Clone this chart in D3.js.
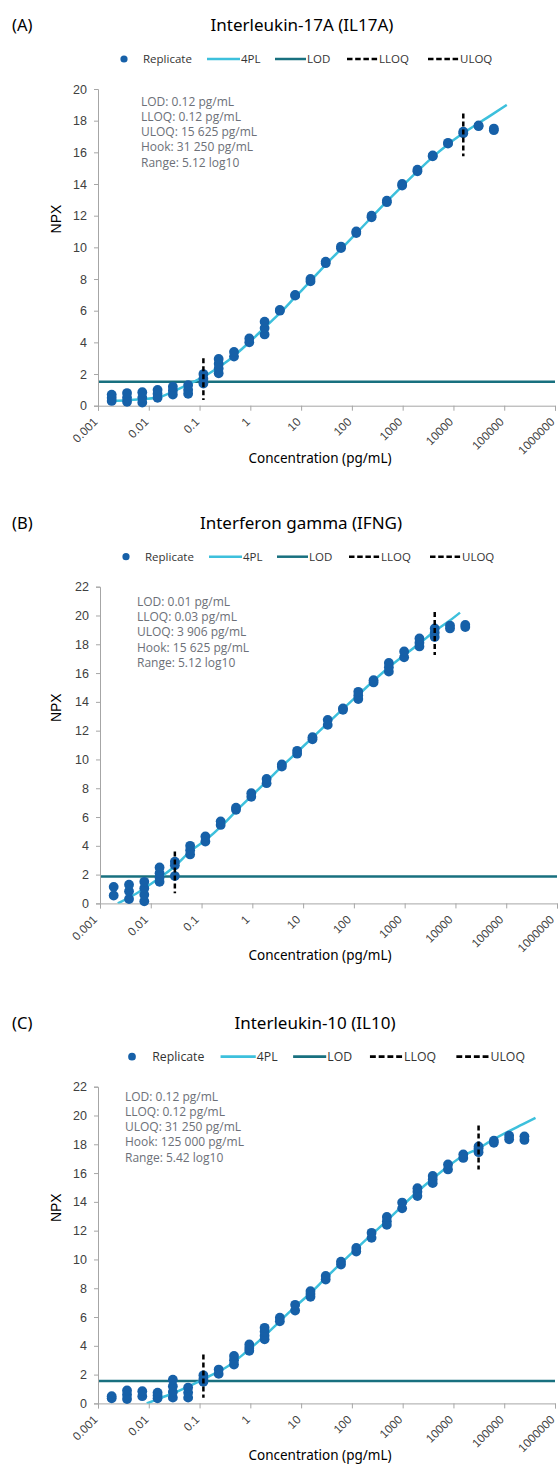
<!DOCTYPE html>
<html>
<head>
<meta charset="utf-8">
<script src="https://cdn.jsdelivr.net/npm/d3@7"></script>
<style>
  body { margin: 0; background: #fff; }
  svg { display: block; }
</style>
</head>
<body>
<svg class="chart"></svg>
<script>
const width = 558
const height = 1465

// x axis ticks (pg/mL)
const xTicks = [0.001, 0.01, 0.1, 1, 10, 100, 1000, 10000, 100000, 1000000]
const xTickLabels = ['0.001', '0.01', '0.1', '1', '10', '100', '1000', '10000', '100000', '1000000']
const yTicksA = [0, 2, 4, 6, 8, 10, 12, 14, 16, 18, 20]
const yTicksBC = [0, 2, 4, 6, 8, 10, 12, 14, 16, 18, 20, 22]

const legendLabels = ['Replicate', '4PL', 'LOD', 'LLOQ', 'ULOQ']
const titles = ['Interleukin-17A (IL17A)', 'Interferon gamma (IFNG)', 'Interleukin-10 (IL10)']
const panelTags = ['(A)', '(B)', '(C)']

// dilution series (pg/mL)
const concA = [0.00186, 0.00373, 0.00745, 0.0149, 0.0298, 0.0596, 0.119, 0.238, 0.477, 0.954, 1.91, 3.81, 7.63,
  15.3, 30.5, 61.0, 122, 244, 488, 977, 1953, 3906, 7813, 15625, 31250, 62500]
const concB = [0.00186, 0.00373, 0.00745, 0.0149, 0.0298, 0.0596, 0.119, 0.238, 0.477, 0.954, 1.91, 3.81, 7.63,
  15.3, 30.5, 61.0, 122, 244, 488, 977, 1953, 3906, 7813, 15625]
const concC = [0.00186, 0.00373, 0.00745, 0.0149, 0.0298, 0.0596, 0.119, 0.238, 0.477, 0.954, 1.91, 3.81, 7.63,
  15.3, 30.5, 61.0, 122, 244, 488, 977, 1953, 3906, 7813, 15625, 31250, 62500, 125000, 250000]

// replicate NPX per concentration
const npxA = [
  [0.3, 0.5, 0.7], [0.25, 0.5, 0.8], [0.2, 0.5, 0.85], [0.5, 0.75, 1.0], [0.7, 0.95, 1.2], [0.75, 1.0, 1.3],
  [1.4, 1.7, 2.0], [2.05, 2.35, 2.65, 2.95], [3.1, 3.4], [4.0, 4.25], [4.5, 4.9, 5.3], [6.0, 6.05],
  [6.95, 7.0], [7.85, 8.0], [9.0, 9.1], [9.95, 10.05], [10.9, 11.0], [11.9, 12.0], [12.85, 12.95],
  [13.9, 14.0], [14.8, 14.9], [15.75, 15.8], [16.55, 16.6], [17.2, 17.3], [17.65, 17.7], [17.4, 17.5]
]
const npxB = [
  [0.55, 1.15], [0.3, 0.85, 1.3], [0.15, 0.6, 1.05, 1.5], [1.5, 1.8, 2.1, 2.5], [1.9, 2.65, 2.9],
  [3.4, 3.7, 4.0], [4.3, 4.65], [5.45, 5.7], [6.5, 6.65], [7.4, 7.65], [8.35, 8.65], [9.5, 9.65],
  [10.4, 10.6], [11.4, 11.55], [12.4, 12.75], [13.45, 13.55], [14.2, 14.45, 14.7], [15.35, 15.5],
  [16.1, 16.4, 16.7], [17.1, 17.5], [17.85, 18.1, 18.4], [18.5, 18.8, 19.1], [19.1, 19.3], [19.2, 19.35]
]
const npxC = [
  [0.35, 0.5], [0.3, 0.6, 0.9], [0.5, 0.85], [0.35, 0.55, 0.75], [0.4, 0.8, 1.2, 1.65], [0.4, 0.75, 1.1],
  [1.5, 1.7, 1.95], [2.05, 2.35], [2.7, 3.0, 3.3], [3.65, 3.85, 4.1], [4.45, 4.7, 5.0, 5.25], [5.7, 5.95],
  [6.45, 6.85], [7.4, 7.6, 7.8], [8.6, 8.85], [9.65, 9.85], [10.55, 10.8], [11.5, 11.85],
  [12.4, 12.65, 12.95], [13.55, 13.95], [14.4, 14.7, 14.95], [15.3, 15.55, 15.8], [16.25, 16.6],
  [17.05, 17.3], [17.45, 17.7, 17.85], [18.1, 18.25], [18.35, 18.6], [18.3, 18.55]
]

// 4PL fit: log10 concentration and NPX
const curveLogA = [-2.73, -2.4, -2.1, -1.78, -1.484, -1.09, -0.829, -0.435, -0.04, 0.287, 0.616, 0.88, 1.18,
  1.48, 1.79, 2.09, 2.69, 3.29, 3.59, 3.89, 4.19, 4.72, 5.05]
const curveNpxA = [0.3, 0.35, 0.42, 0.55, 0.95, 1.55, 2.0, 2.85, 3.95, 4.95, 5.95, 6.85, 7.85,
  8.9, 9.9, 10.9, 12.9, 14.8, 15.7, 16.5, 17.2, 18.3, 19.0]
const curveLogB = [-2.65, -2.3, -2.0, -1.79, -1.52, -1.23, -0.9, -0.6, -0.31, -0.014, 0.28, 0.577, 0.88,
  1.48, 2.09, 2.69, 3.29, 3.59, 3.89, 4.09]
const curveNpxB = [0, 0.65, 1.35, 1.87, 2.6, 3.6, 4.45, 5.4, 6.45, 7.47, 8.47, 9.5, 10.5,
  12.5, 14.5, 16.4, 18.05, 18.9, 19.65, 20.2]
const curveLogC = [-2.04, -1.746, -1.42, -1.09, -0.83, -0.435, -0.106, 0.222, 0.55, 0.878, 1.18, 1.48, 2.09,
  2.69, 3.29, 3.59, 3.89, 4.19, 4.49, 4.72, 5.37, 5.616]
const curveNpxC = [0, 0.4, 0.85, 1.39, 1.85, 2.6, 3.5, 4.5, 5.6, 6.7, 7.65, 8.7, 10.75,
  12.7, 14.7, 15.6, 16.45, 17.2, 17.7, 18.2, 19.4, 19.83]

// LOD (NPX), LLOQ / ULOQ (pg/mL) and the NPX span of their dashed markers
const lod = [1.52, 1.87, 1.55]
const lloq = [0.119, 0.0298, 0.119]
const uloq = [15625, 3906, 31250]
const lloqSpan = [[0.36, 3.0], [0.7, 3.6], [0.4, 3.4]]
const uloqSpan = [[15.75, 18.45], [17.25, 20.25], [16.25, 19.3]]

const infoA = ['LOD: 0.12 pg/mL', 'LLOQ: 0.12 pg/mL', 'ULOQ: 15 625 pg/mL', 'Hook: 31 250 pg/mL', 'Range: 5.12 log10']
const infoB = ['LOD: 0.01 pg/mL', 'LLOQ: 0.03 pg/mL', 'ULOQ: 3 906 pg/mL', 'Hook: 15 625 pg/mL', 'Range: 5.12 log10']
const infoC = ['LOD: 0.12 pg/mL', 'LLOQ: 0.12 pg/mL', 'ULOQ: 31 250 pg/mL', 'Hook: 125 000 pg/mL', 'Range: 5.42 log10']

const colors = {
  dot: '#1660a8',
  fit: '#3dc0dc',
  lod: '#18707f',
  axis: '#a6a6a6',
  tick: '#404040',
  info: '#6c7078'
}

// page layout of each panel
const layout = [
  { top: 0, x0: 98, x1: 555, labelDx: 0, infoX: 141, infoY: 16.7, npxY: 219, titleX: 302, legendX: 124, legendS: 1 },
  { top: 497.7, x0: 100, x1: 557, labelDx: -2.5, infoX: 137, infoY: 19.3, npxY: 210, titleX: 301, legendX: 126, legendS: 1 },
  { top: 997.7, x0: 98, x1: 555, labelDx: 0, infoX: 125, infoY: 14, npxY: 210, titleX: 315, legendX: 132, legendS: 1.067 }
]

const panels = [
  { conc: concA, npx: npxA, cLog: curveLogA, cNpx: curveNpxA, info: infoA, yTicks: yTicksA },
  { conc: concB, npx: npxB, cLog: curveLogB, cNpx: curveNpxB, info: infoB, yTicks: yTicksBC },
  { conc: concC, npx: npxC, cLog: curveLogC, cNpx: curveNpxC, info: infoC, yTicks: yTicksBC }
]

const titleFont = '"Noto Sans", "Open Sans", sans-serif'
const axisFont = '"Liberation Sans", Arial, sans-serif'
const infoFont = '"Open Sans", "Noto Sans", sans-serif'

function drawLegend(svg, L) {
  const g = svg
    .append('g')
    .attr('transform', `translate(${L.legendX},${L.top + 59}) scale(${L.legendS})`)
    .attr('font-family', infoFont)
    .attr('font-size', 11.5)
    .attr('fill', '#333')

  g.append('circle').attr('r', 3.6).attr('fill', colors.dot)
  g.append('line').attr('x1', 83).attr('x2', 116)
    .attr('stroke', colors.fit).attr('stroke-width', 2.5)
  g.append('line').attr('x1', 151).attr('x2', 182)
    .attr('stroke', colors.lod).attr('stroke-width', 2.5)
  g.selectAll('line.dash')
    .data([223, 304])
    .join('line')
    .attr('class', 'dash')
    .attr('x1', d => d).attr('x2', d => d + 31)
    .attr('stroke', '#000').attr('stroke-width', 2.5)
    .attr('stroke-dasharray', '5.5,2.7')

  g.selectAll('text')
    .data(d3.zip(legendLabels, [19, 117, 183, 255, 336]))
    .join('text')
    .attr('x', d => d[1])
    .attr('dy', '0.36em')
    .text(d => d[0])
}

function drawPanel(svg, p, L, i) {
  const top = L.top + 89
  const bottom = L.top + 405.7
  const yMax = d3.max(p.yTicks)

  const x = d3.scaleLog().domain([0.001, 1000000]).range([L.x0, L.x1])
  const y = d3.scaleLinear().domain([0, yMax]).range([bottom, top])

  // headings
  svg.append('text')
    .attr('x', 12).attr('y', L.top + 31)
    .attr('font-family', titleFont).attr('font-size', 16.5)
    .text(panelTags[i])
  svg.append('text')
    .attr('x', L.titleX).attr('y', L.top + 31)
    .attr('text-anchor', 'middle')
    .attr('font-family', titleFont).attr('font-size', 17)
    .text(titles[i])

  drawLegend(svg, L)

  // axes
  svg.append('g')
    .attr('transform', `translate(${L.x0},0)`)
    .call(d3.axisLeft(y).tickValues(p.yTicks).tickSize(4).tickPadding(7))
    .call(g => g.selectAll('.domain, line').attr('stroke', colors.axis))
    .call(g => g.selectAll('text')
      .attr('font-family', axisFont).attr('font-size', 12.5).attr('fill', colors.tick))

  svg.append('g')
    .attr('transform', `translate(0,${bottom})`)
    .call(d3.axisBottom(x).tickValues(xTicks).tickSize(5).tickFormat((d, k) => xTickLabels[k]))
    .call(g => g.selectAll('.domain, line').attr('stroke', colors.axis))
    .call(g => g.selectAll('text')
      .attr('font-family', axisFont).attr('font-size', 11.8).attr('fill', colors.tick)
      .attr('text-anchor', 'end')
      .attr('x', 0).attr('y', 0).attr('dy', 0)
      .attr('transform', `translate(${L.labelDx},17) rotate(-45)`))

  svg.append('text')
    .attr('transform', `translate(60.5,${L.top + L.npxY}) rotate(-90)`)
    .attr('text-anchor', 'middle')
    .attr('font-family', axisFont).attr('font-size', 14)
    .text('NPX')

  svg.append('text')
    .attr('x', 320).attr('y', bottom + 57)
    .attr('text-anchor', 'middle')
    .attr('font-family', titleFont).attr('font-size', 13.5)
    .text('Concentration (pg/mL)')

  // info box
  svg.append('g')
    .attr('font-family', infoFont).attr('font-size', 12).attr('fill', colors.info)
    .selectAll('text')
    .data(p.info)
    .join('text')
    .attr('x', L.infoX)
    .attr('y', (d, k) => top + L.infoY + k * 15.2)
    .text(d => d)

  const clipId = `clip-${i}`
  svg.append('clipPath').attr('id', clipId)
    .append('rect')
    .attr('x', L.x0).attr('y', top - 10)
    .attr('width', L.x1 - L.x0).attr('height', bottom - top + 10)

  const plot = svg.append('g').attr('clip-path', `url(#${clipId})`)

  plot.append('line')
    .attr('x1', L.x0 + 1).attr('x2', L.x1)
    .attr('y1', y(lod[i])).attr('y2', y(lod[i]))
    .attr('stroke', colors.lod).attr('stroke-width', 2.5)

  const line = d3.line()
    .x(d => x(10 ** d[0]))
    .y(d => y(d[1]))
    .curve(d3.curveMonotoneX)

  plot.append('path')
    .datum(d3.zip(p.cLog, p.cNpx))
    .attr('d', line)
    .attr('fill', 'none')
    .attr('stroke', colors.fit)
    .attr('stroke-width', 2.5)

  const reps = d3.merge(p.npx.map((vals, k) => vals.map(v => ({ c: p.conc[k], v }))))
  svg.append('g')
    .attr('fill', colors.dot)
    .selectAll('circle')
    .data(reps)
    .join('circle')
    .attr('cx', d => x(d.c))
    .attr('cy', d => y(d.v))
    .attr('r', 4.9)

  svg.append('g')
    .attr('stroke', '#000').attr('stroke-width', 2.5).attr('stroke-dasharray', '5,3')
    .selectAll('line')
    .data([[lloq[i], lloqSpan[i]], [uloq[i], uloqSpan[i]]])
    .join('line')
    .attr('x1', d => x(d[0])).attr('x2', d => x(d[0]))
    .attr('y1', d => y(d[1][1])).attr('y2', d => y(d[1][0]))
}

function drawChart() {
  const svg = d3.select('.chart')
    .attr('width', width)
    .attr('height', height)
    .attr('viewBox', [0, 0, width, height])

  svg.append('rect').attr('width', width).attr('height', height).attr('fill', '#fff')

  panels.forEach((p, i) => drawPanel(svg, p, layout[i], i))
}

drawChart()
</script>
</body>
</html>
